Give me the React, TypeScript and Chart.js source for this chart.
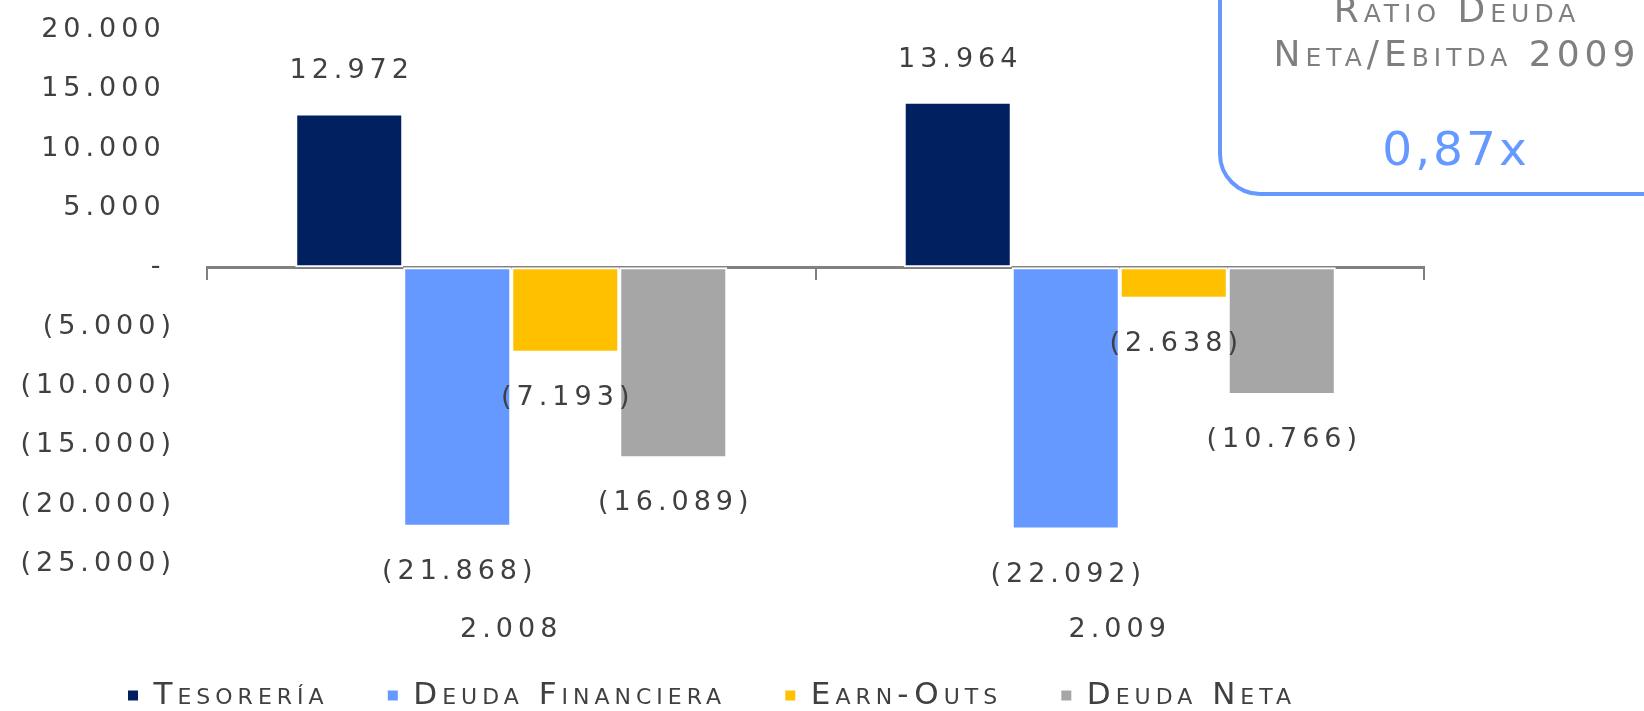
import React, { useEffect, useRef } from 'react';
import { Chart, registerables } from 'chart.js';

Chart.register(...registerables);

// ---- data ----
const categories = ['2.008', '2.009'];
const seriesNames = ['Tesorería', 'Deuda Financiera', 'Earn-Outs', 'Deuda Neta'];
const tesoreria = [12972, 13964];
const deudaFinanciera = [-21868, -22092];
const earnOuts = [-7193, -2638];
const deudaNeta = [-16089, -10766];
const seriesColors = ['#002060', '#6699FF', '#FFC000', '#A6A6A6'];
const yMin = -25000;
const yMax = 20000;
const yStep = 5000;
const ratioTitle = ['Ratio Deuda', 'Neta/Ebitda 2009'];
const ratioValue = '0,87x';

const FONT = '"DejaVu Sans"';
const TEXT = '#404040';
const SPACING = '5px';

function group(n: number): string {
  return String(Math.round(n)).replace(/\B(?=(\d{3})+(?!\d))/g, '.');
}
function fmtTick(n: number): string {
  if (n === 0) return '-\u2009';
  if (n > 0) return group(n) + '\u2009';
  return '(' + group(-n) + ')';
}
function fmtLabel(n: number): string {
  return n < 0 ? '(' + group(-n) + ')' : group(n);
}

const spacingPlugin = {
  id: 'spacing',
  beforeUpdate(chart: any) {
    chart.ctx.letterSpacing = SPACING;
  },
  beforeDraw(chart: any) {
    chart.ctx.letterSpacing = SPACING;
  },
};

const valueLabels = {
  id: 'valueLabels',
  afterDatasetsDraw(chart: any) {
    const ctx = chart.ctx;
    ctx.save();
    ctx.font = `27px ${FONT}`;
    ctx.letterSpacing = SPACING;
    ctx.fillStyle = TEXT;
    ctx.textAlign = 'center';
    ctx.textBaseline = 'middle';
    chart.data.datasets.forEach((ds: any, i: number) => {
      const meta = chart.getDatasetMeta(i);
      meta.data.forEach((bar: any, j: number) => {
        const v = ds.data[j];
        const p = bar.getProps(['x', 'y'], true);
        const y = v >= 0 ? p.y - 42 : p.y + 45;
        ctx.fillText(fmtLabel(v), p.x + 2.5, y);
      });
    });
    ctx.restore();
  },
};

const ratioBox = {
  id: 'ratioBox',
  afterDraw(chart: any) {
    const ctx = chart.ctx;
    ctx.save();
    ctx.lineWidth = 4;
    ctx.strokeStyle = '#6699FF';
    ctx.beginPath();
    (ctx as any).roundRect(1220, -80, 520, 274, 40);
    ctx.stroke();
    ctx.letterSpacing = '5px';
    ctx.textAlign = 'center';
    ctx.textBaseline = 'alphabetic';
    ctx.fillStyle = '#7F7F7F';
    ctx.font = `small-caps 36px ${FONT}`;
    ctx.fillText(ratioTitle[0], 1457, 22);
    ctx.fillText(ratioTitle[1], 1457, 66);
    ctx.fillStyle = '#6699FF';
    ctx.letterSpacing = '3px';
    ctx.font = `47px ${FONT}`;
    ctx.fillText(ratioValue, 1456, 165);
    ctx.restore();
  },
};

export default function App() {
  const ref = useRef<HTMLCanvasElement | null>(null);
  useEffect(() => {
    if (!ref.current) return;
    const values = [tesoreria, deudaFinanciera, earnOuts, deudaNeta];
    const chart = new Chart(ref.current, {
      type: 'bar',
      data: {
        labels: categories,
        datasets: seriesNames.map((name, i) => ({
          label: name,
          data: values[i],
          backgroundColor: seriesColors[i],
          borderColor: '#FFFFFF',
          borderWidth: 2,
          borderSkipped: false,
          categoryPercentage: 0.71,
          barPercentage: 1,
          xAxisID: 'x',
          yAxisID: 'y',
        })),
      },
      options: {
        animation: false,
        responsive: false,
        layout: { padding: { top: 30, right: 220, left: 0, bottom: -10 } },
        plugins: {
          tooltip: { enabled: false },
          legend: {
            position: 'bottom',
            labels: {
              boxWidth: 10,
              boxHeight: 10,
              padding: 12,
              color: TEXT,
              font: { family: FONT, size: 31, weight: 'small-caps normal' as any },
              generateLabels: (c: any) => {
                const items = (Chart.defaults.plugins.legend.labels as any).generateLabels(c);
                return items.map((l: any, k: number) => ({
                  ...l,
                  text: k < items.length - 1 ? l.text + '\u2003\u2009' : l.text,
                  lineWidth: 0,
                  strokeStyle: 'rgba(0,0,0,0)',
                }));
              },
            },
          },
        },
        scales: {
          x: {
            type: 'category',
            position: { y: 0 } as any,
            offset: true,
            ticks: { display: false },
            grid: {
              display: true,
              drawOnChartArea: false,
              drawTicks: true,
              tickLength: 11,
              color: '#808080',
              lineWidth: 2,
              offset: true,
            },
            border: { display: true, color: '#808080', width: 3 },
          },
          x2: {
            type: 'category',
            labels: categories,
            position: 'bottom',
            offset: true,
            grid: { display: false, drawTicks: false },
            border: { display: false },
            ticks: { padding: 50, color: TEXT, font: { family: FONT, size: 27 } },
            afterFit: (s: any) => {
              s.height = 104;
            },
          },
          y: {
            min: yMin,
            max: yMax,
            ticks: {
              stepSize: yStep,
              padding: 31,
              color: TEXT,
              font: { family: FONT, size: 27 },
              callback: (v: any) => fmtTick(Number(v)),
            },
            grid: { display: false, drawTicks: false },
            border: { display: false },
            afterFit: (s: any) => {
              s.width = 207;
              s.paddingTop = 0;
              s.paddingBottom = 0;
            },
          },
        },
      } as any,
      plugins: [spacingPlugin, valueLabels, ratioBox],
    });
    return () => chart.destroy();
  }, []);
  return (
    <div style={{ position: 'fixed', left: 0, top: 0, width: 1644, height: 711, background: '#fff' }}>
      <canvas ref={ref} width={1644} height={711} style={{ display: 'block', width: 1644, height: 711 }} />
    </div>
  );
}
